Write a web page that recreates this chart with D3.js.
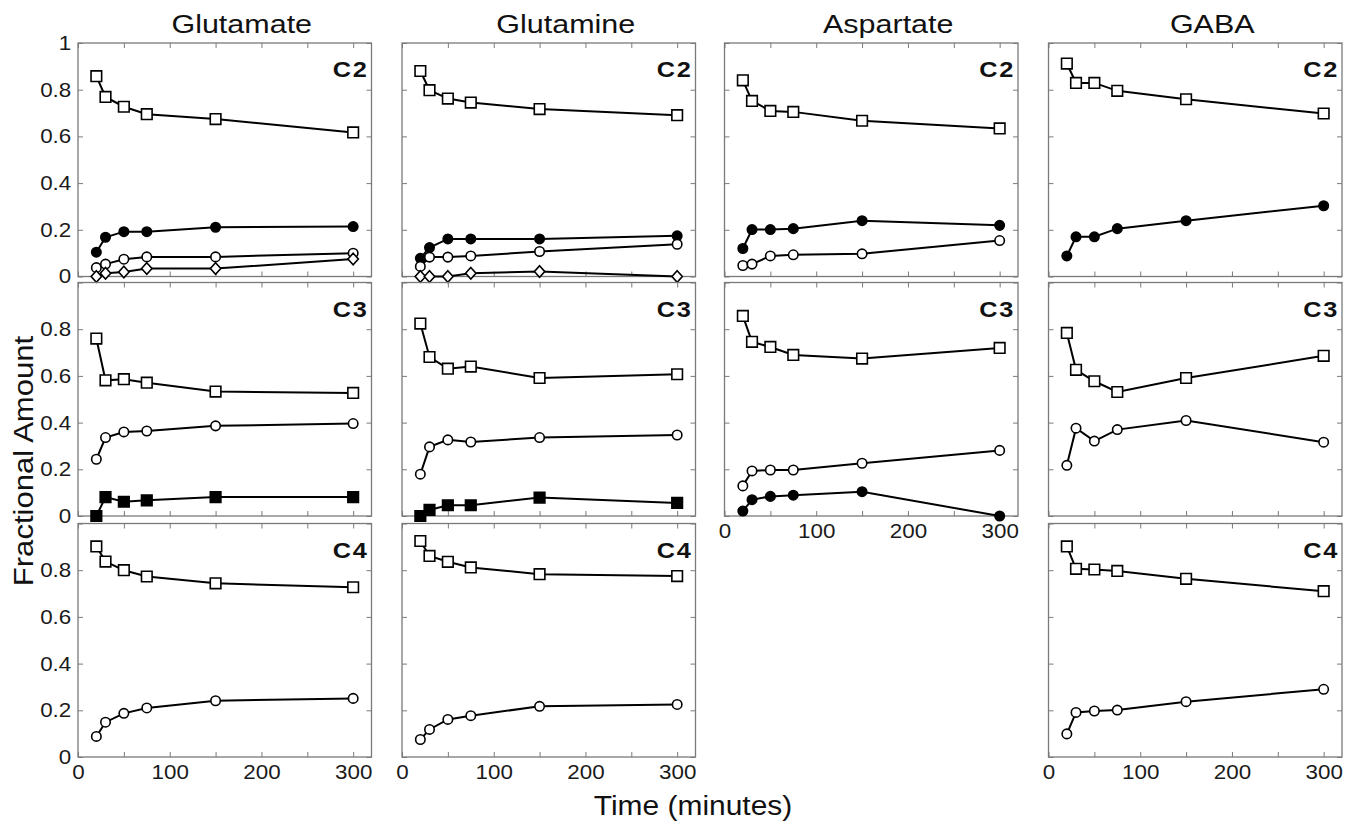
<!DOCTYPE html>
<html>
<head>
<meta charset="utf-8">
<script src="https://cdn.jsdelivr.net/npm/d3@7"></script>
<style>
  body { margin: 0; background: #fff; }
  text { font-family: "Liberation Sans", Arial, sans-serif; }
</style>
</head>
<body>
<script>
// sampling times (minutes)
var times = [20, 30, 50, 75, 150, 300];

var compounds = ["Glutamate", "Glutamine", "Aspartate", "GABA"];
var positions = ["C2", "C3", "C4"];

var yTicks = [0, 0.2, 0.4, 0.6, 0.8, 1];
var xTicks = [0, 50, 100, 150, 200, 250, 300];
var xLabels = [0, 100, 200, 300];

// Glutamate
var gluC2Square = [0.858, 0.769, 0.727, 0.695, 0.674, 0.617];
var gluC2Dot = [0.104, 0.168, 0.192, 0.192, 0.211, 0.214];
var gluC2Circle = [0.038, 0.053, 0.074, 0.084, 0.084, 0.100];
var gluC2Diamond = [0.000, 0.014, 0.019, 0.034, 0.034, 0.075];
var gluC3Square = [0.760, 0.581, 0.586, 0.571, 0.533, 0.527];
var gluC3Circle = [0.243, 0.336, 0.360, 0.364, 0.386, 0.396];
var gluC3Block = [0.000, 0.081, 0.061, 0.067, 0.081, 0.081];
var gluC4Square = [0.902, 0.837, 0.800, 0.773, 0.744, 0.727];
var gluC4Circle = [0.088, 0.149, 0.187, 0.210, 0.241, 0.251];

// Glutamine
var glnC2Square = [0.880, 0.798, 0.762, 0.745, 0.717, 0.691];
var glnC2Dot = [0.078, 0.124, 0.161, 0.161, 0.161, 0.174];
var glnC2Circle = [0.043, 0.083, 0.083, 0.088, 0.107, 0.138];
var glnC2Diamond = [0.000, 0.000, 0.000, 0.014, 0.021, 0.000];
var glnC3Square = [0.824, 0.681, 0.631, 0.640, 0.591, 0.607];
var glnC3Circle = [0.179, 0.296, 0.326, 0.317, 0.336, 0.347];
var glnC3Block = [0.000, 0.026, 0.046, 0.046, 0.079, 0.056];
var glnC4Square = [0.925, 0.861, 0.836, 0.812, 0.783, 0.775];
var glnC4Circle = [0.075, 0.118, 0.161, 0.177, 0.217, 0.225];

// Aspartate
var aspC2Square = [0.840, 0.752, 0.709, 0.705, 0.667, 0.634];
var aspC2Dot = [0.120, 0.201, 0.201, 0.205, 0.239, 0.219];
var aspC2Circle = [0.047, 0.053, 0.088, 0.093, 0.097, 0.154];
var aspC3Square = [0.857, 0.746, 0.724, 0.690, 0.674, 0.720];
var aspC3Circle = [0.129, 0.193, 0.197, 0.197, 0.226, 0.281];
var aspC3Dot = [0.021, 0.070, 0.084, 0.089, 0.104, 0.000];

// GABA
var gabaC2Square = [0.912, 0.829, 0.829, 0.795, 0.759, 0.698];
var gabaC2Dot = [0.088, 0.170, 0.170, 0.205, 0.239, 0.303];
var gabaC3Square = [0.784, 0.626, 0.577, 0.531, 0.591, 0.686];
var gabaC3Circle = [0.217, 0.376, 0.321, 0.370, 0.409, 0.316];
var gabaC4Square = [0.902, 0.806, 0.803, 0.797, 0.763, 0.710];
var gabaC4Circle = [0.099, 0.191, 0.197, 0.201, 0.237, 0.290];

// which panels exist and what they hold
var panels = [
  {col: 0, row: 0, series: [[gluC2Square, "square", false], [gluC2Dot, "circle", true], [gluC2Circle, "circle", false], [gluC2Diamond, "diamond", false]]},
  {col: 0, row: 1, series: [[gluC3Square, "square", false], [gluC3Circle, "circle", false], [gluC3Block, "square", true]]},
  {col: 0, row: 2, series: [[gluC4Square, "square", false], [gluC4Circle, "circle", false]]},
  {col: 1, row: 0, series: [[glnC2Square, "square", false], [glnC2Dot, "circle", true], [glnC2Circle, "circle", false], [glnC2Diamond, "diamond", false]]},
  {col: 1, row: 1, series: [[glnC3Square, "square", false], [glnC3Circle, "circle", false], [glnC3Block, "square", true]]},
  {col: 1, row: 2, series: [[glnC4Square, "square", false], [glnC4Circle, "circle", false]]},
  {col: 2, row: 0, series: [[aspC2Square, "square", false], [aspC2Dot, "circle", true], [aspC2Circle, "circle", false]]},
  {col: 2, row: 1, series: [[aspC3Square, "square", false], [aspC3Circle, "circle", false], [aspC3Dot, "circle", true]]},
  {col: 3, row: 0, series: [[gabaC2Square, "square", false], [gabaC2Dot, "circle", true]]},
  {col: 3, row: 1, series: [[gabaC3Square, "square", false], [gabaC3Circle, "circle", false]]},
  {col: 3, row: 2, series: [[gabaC4Square, "square", false], [gabaC4Circle, "circle", false]]}
];

// layout
var W = 1358, H = 825;
var colLeft = [78, 402, 724.5, 1048.5];
var rowTop = [43, 282.5, 523.5];
var pw = 293.5, ph = 233.5;
var frameColor = "#7a7a7a";

var svg = d3.select("body").append("svg")
  .attr("width", W)
  .attr("height", H);

svg.append("rect").attr("width", W).attr("height", H).attr("fill", "#fff");

var x = d3.scaleLinear().domain([0, 320]).range([0, pw]);
var y = d3.scaleLinear().domain([0, 1]).range([ph, 0]);

var line = d3.line()
  .x(function (d, i) { return x(times[i]); })
  .y(function (d) { return y(d); });

function markerPath(shape) {
  if (shape === "square") return "M-5.3,-5.3H5.3V5.3H-5.3Z";
  if (shape === "diamond") return "M0,-5.8L5.2,0L0,5.8L-5.2,0Z";
  return d3.symbol(d3.symbolCircle, 70)();
}

// bottom-most panel of each column gets x labels
var lastRow = {};
panels.forEach(function (p) {
  lastRow[p.col] = Math.max(lastRow[p.col] === undefined ? -1 : lastRow[p.col], p.row);
});

panels.forEach(function (p) {
  var g = svg.append("g")
    .attr("transform", "translate(" + colLeft[p.col] + "," + rowTop[p.row] + ")");

  // inward ticks on all four sides
  var tickFmtY = d3.format("~g");
  var yLabs = p.col === 0 ? yTicks.filter(function (t) { return p.row === 0 || t < 1; }) : [];

  var left = g.append("g").call(d3.axisLeft(y).tickValues(yTicks).tickSize(-5).tickPadding(6)
    .tickFormat(function (d) { return yLabs.indexOf(d) >= 0 ? tickFmtY(d) : ""; }));
  var right = g.append("g").attr("transform", "translate(" + pw + ",0)")
    .call(d3.axisRight(y).tickValues(yTicks).tickSize(-5).tickFormat(""));
  var bottom = g.append("g").attr("transform", "translate(0," + ph + ")")
    .call(d3.axisBottom(x).tickValues(xTicks).tickSize(-5).tickPadding(8)
      .tickFormat(function (d) {
        return (lastRow[p.col] === p.row && xLabels.indexOf(d) >= 0) ? d : "";
      }));
  var top = g.append("g")
    .call(d3.axisTop(x).tickValues(xTicks).tickSize(-5).tickFormat(""));

  [left, right, bottom, top].forEach(function (a) {
    a.select(".domain").remove();
    a.selectAll(".tick line").attr("stroke", frameColor).attr("stroke-width", 1);
    a.selectAll(".tick text")
      .attr("font-size", "20px")
      .attr("fill", "#1a1a1a")
      .attr("transform", "scale(1.12,1)")
      .style("font-family", "'Liberation Sans', Arial, sans-serif");
  });

  g.append("rect")
    .attr("width", pw)
    .attr("height", ph)
    .attr("fill", "none")
    .attr("stroke", frameColor)
    .attr("stroke-width", 1.3);

  // panel label
  g.append("text")
    .attr("transform", "translate(" + (pw - 3) + ",34) scale(1.15,1)")
    .attr("text-anchor", "end")
    .attr("font-size", "22px")
    .attr("font-weight", "bold")
    .attr("letter-spacing", "1.5px")
    .attr("fill", "#111")
    .text(positions[p.row]);

  p.series.forEach(function (s) {
    var vals = s[0], shape = s[1], filled = s[2];
    g.append("path")
      .attr("d", line(vals))
      .attr("fill", "none")
      .attr("stroke", "#000")
      .attr("stroke-width", 2);

    g.selectAll(null)
      .data(vals)
      .enter()
      .append("path")
      .attr("transform", function (d, i) {
        return "translate(" + x(times[i]) + "," + y(d) + ")";
      })
      .attr("d", markerPath(shape))
      .attr("fill", filled ? "#000" : "#fff")
      .attr("stroke", "#000")
      .attr("stroke-width", 1.6);
  });
});

// column titles
compounds.forEach(function (c, i) {
  svg.append("text")
    .attr("transform", "translate(" + (colLeft[i] + pw / 2 + 17) + ",33) scale(1.22,1)")
    .attr("text-anchor", "middle")
    .attr("font-size", "25px")
    .attr("fill", "#111")
    .text(c);
});

// axis titles
svg.append("text")
  .attr("transform", "translate(33,461) rotate(-90) scale(1.11,1)")
  .attr("text-anchor", "middle")
  .attr("font-size", "28px")
  .attr("fill", "#111")
  .text("Fractional Amount");

svg.append("text")
  .attr("transform", "translate(693,815) scale(1.07,1)")
  .attr("text-anchor", "middle")
  .attr("font-size", "28px")
  .attr("fill", "#111")
  .text("Time (minutes)");
</script>
</body>
</html>
